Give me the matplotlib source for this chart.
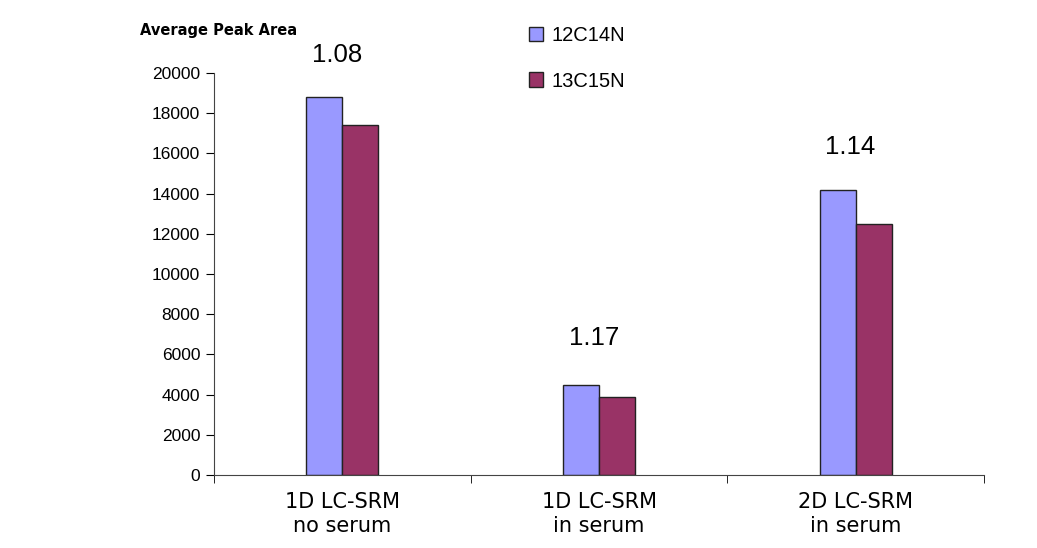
import numpy as np
import matplotlib
matplotlib.use('Agg')
import matplotlib.pyplot as plt

categories = ['1D LC-SRM\nno serum', '1D LC-SRM\nin serum', '2D LC-SRM\nin serum']
light = [18800, 4500, 14200]   # 12C14N
heavy = [17400, 3900, 12500]   # 13C15N
ratios = ['1.08', '1.17', '1.14']
ratio_y = [20900, 6800, 16300]

plt.rcParams['font.family'] = ['Liberation Sans', 'DejaVu Sans']

fig = plt.figure(figsize=(10.37, 5.48), dpi=100)
ax = fig.add_axes([0.2064, 0.1332, 0.7425, 0.7336])

x = np.arange(len(categories))
w = 0.14
b1 = ax.bar(x - w/2, light, w, color='#9999FF', edgecolor='#222222', lw=1, label='12C14N')
b2 = ax.bar(x + w/2, heavy, w, color='#993366', edgecolor='#222222', lw=1, label='13C15N')

for xi, r, yy in zip(x, ratios, ratio_y):
    ax.text(xi - 0.02, yy, r, ha='center', va='center', fontsize=18.5, clip_on=False)

ax.set_xlim(-0.5, 2.5)
ax.set_ylim(0, 20000)
ax.set_yticks(np.arange(0, 20001, 2000))
ax.tick_params(axis='y', labelsize=12.5, length=6, direction='out', pad=4)
ax.set_xticks(x)
ax.set_xticklabels(categories, fontsize=15, family='DejaVu Sans', linespacing=1.3)
ax.tick_params(axis='x', length=0, pad=12)
ax.set_xticks([-0.5, 0.5, 1.5, 2.5], minor=True)
ax.tick_params(axis='x', which='minor', length=6, direction='out')
for s in ['top', 'right']:
    ax.spines[s].set_visible(False)
for s in ['left', 'bottom']:
    ax.spines[s].set_color('#444444')

fig.text(0.135, 0.945, 'Average Peak Area', fontsize=10.5, fontweight='bold',
         family='DejaVu Sans', ha='left', va='center')

fig.legend(handles=[b1, b2], loc='upper left', bbox_to_anchor=(0.493, 0.985), frameon=False,
           fontsize=14.5, labelspacing=1.3, handlelength=0.7, handleheight=0.7, handletextpad=0.4)

fig.savefig('out.png', dpi=100)
